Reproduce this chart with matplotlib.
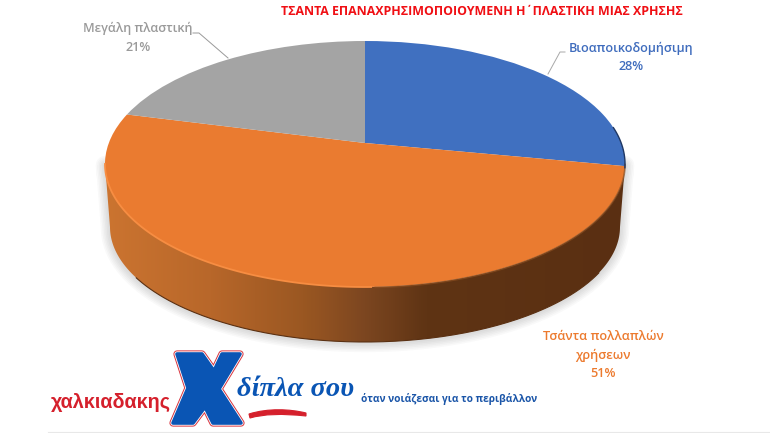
# encoding=utf-8
import matplotlib
matplotlib.use("Agg")
import matplotlib.pyplot as plt
import numpy as np
from matplotlib.patches import PathPatch, Polygon
from matplotlib.path import Path
from matplotlib.transforms import Transform
from matplotlib.colors import LinearSegmentedColormap

plt.rcParams['font.family'] = ['Open Sans', 'DejaVu Sans']

labels = ['Βιοαποικοδομήσιμη', 'Τσάντα πολλαπλών\nχρήσεων', 'Μεγάλη πλαστική']
values = [28, 51, 21]
colors = ['#4070c0', '#ea7b30', '#a4a4a4']
title = 'ΤΣΑΝΤΑ ΕΠΑΝΑΧΡΗΣΙΜΟΠΟΙΟΥΜΕΝΗ Η΄ΠΛΑΣΤΙΚΗ ΜΙΑΣ ΧΡΗΣΗΣ'
slogan = 'όταν νοιάζεσαι για το περιβάλλον'

# ellipse of the top face, in pixels
cx, cy, rx, ry = 365.0, 164.0, 260.0, 123.0
apex_y = 143.0
bx, by, brx, bry = 365.0, 227.0, 255.0, 115.0


class Persp(Transform):
    # unit circle -> perspective ellipse, pie centre lands on the apex
    input_dims = 2
    output_dims = 2
    is_separable = False
    has_inverse = False

    def transform_non_affine(self, values):
        values = np.asarray(values)
        u, v = values[:, 0], values[:, 1]
        c = cy - apex_y
        k = c / ry
        d = 1 + k * v
        x = cx + rx * np.sqrt(1 - k * k) * u / d
        y = cy - (ry * v + c) / d
        return np.column_stack([x, y])


fig = plt.figure(figsize=(7.7, 4.33), dpi=100)
ax = fig.add_axes([0, 0, 1, 1])

wedges, _ = ax.pie(values, colors=colors, startangle=90, counterclock=False)
for w in wedges:
    w.set_transform(Persp() + ax.transData)
    w.set_zorder(5)
    w.set_edgecolor('none')

# side wall
t = np.linspace(0, np.pi, 200)
top_x, top_y = cx + rx * np.cos(t), cy + ry * np.sin(t)
bot_x, bot_y = bx + brx * np.cos(t), by + bry * np.sin(t)
wall = np.vstack([np.column_stack([top_x, top_y]), np.column_stack([bot_x, bot_y])[::-1]])

# soft shadow round the wall
for i in range(1, 7):
    ax.add_patch(Polygon(wall + [0, 1], closed=True, fc='none', ec='#666666', lw=i * 2.2, alpha=0.04,
                         joinstyle='round', zorder=1))

side_cmap = LinearSegmentedColormap.from_list('side', [
    (0.0, '#cb7430'), (0.2, '#b8672a'), (0.38, '#9a5722'), (0.5, '#7c4620'),
    (0.62, '#5f3414'), (1.0, '#5a2f12')])
im = ax.imshow(np.linspace(0, 1, 260)[None, :], cmap=side_cmap, extent=(105, 625, 345, 160), aspect='auto', zorder=3)
clip = Polygon(wall, closed=True, transform=ax.transData, fc='none', ec='none')
ax.add_patch(clip)
im.set_clip_path(clip)

# rims
low = (bot_x > 135) & (bot_x < 600)
ax.plot(bot_x[low], bot_y[low], color='#5a3012', lw=0.8, zorder=4)
m = top_x < cx + 10
ax.plot(top_x[m], top_y[m], color='#f78d42', lw=1.3, zorder=6)
m2 = top_x >= cx + 10
ax.plot(top_x[m2], top_y[m2] + 0.5, color='#8a4d1f', lw=1.2, alpha=0.7, zorder=6)
a = np.linspace(-0.3, 0.03, 30)
ax.plot(cx + rx * np.cos(a), cy + ry * np.sin(a), color='#1f3763', lw=1.0, zorder=6)

# labels
label_col = ['#3f6cbd', '#ec7a2e', '#9a9a9a']
ax.text(631, 57.5, '%s\n%d%%' % (labels[0], values[0]), color=label_col[0], fontsize=9.1, fontweight='semibold',
        ha='center', va='center', linespacing=1.5)
ax.text(603, 355, '%s\n%d%%' % (labels[1], values[1]), color=label_col[1], fontsize=9.2, fontweight='semibold',
        ha='center', va='center', linespacing=1.55)
ax.text(138, 38, '%s\n%d%%' % (labels[2], values[2]), color=label_col[2], fontsize=9.1, fontweight='semibold',
        ha='center', va='center', linespacing=1.55)
ax.plot([193, 199, 228], [33, 33, 58], color='#9a9a9a', lw=0.7, zorder=7)
ax.plot([565, 560, 548], [52, 52, 74], color='#a8a8a8', lw=0.7, zorder=7)
ax.text(482, 11.5, title, color='#f00f14', fontsize=8.9, fontweight='bold', ha='center', va='center')

# logo
x_pts = [(177, 354), (202, 354), (214, 371), (222, 354), (240, 354), (219, 389), (241, 423), (213, 423),
         (205, 407), (193, 423), (173, 423), (188, 388), (177, 354), (177, 354)]
codes = [Path.MOVETO] + [Path.LINETO] * (len(x_pts) - 2) + [Path.CLOSEPOLY]
x_path = Path(x_pts, codes)
ax.add_patch(PathPatch(x_path, fc='none', ec='#d8323c', lw=5.2, joinstyle='round', zorder=8))
ax.add_patch(PathPatch(x_path, fc='none', ec='white', lw=3.8, joinstyle='round', zorder=8))
ax.add_patch(PathPatch(x_path, fc='#0a55b4', ec='#0a55b4', lw=2.6, joinstyle='round', zorder=8))

ax.text(111, 402, 'χαλκιαδακης', color='#d5202c', fontsize=14.2, fontweight='bold', ha='center', va='center',
        family=['Liberation Sans'], zorder=8)
ax.text(296, 390, 'δίπλα σου', color='#0a55b4', fontsize=20.5, fontweight='bold', style='italic', ha='center',
        va='center', family=['Liberation Serif'], zorder=9)
swoosh = Path([(249, 414), (268, 408), (290, 409), (306, 413), (306, 416), (270, 412), (250, 418), (249, 414)],
              [Path.MOVETO, Path.CURVE4, Path.CURVE4, Path.CURVE4, Path.LINETO, Path.CURVE3, Path.CURVE3, Path.CLOSEPOLY])
ax.add_patch(PathPatch(swoosh, fc='#d5202c', ec='#d5202c', lw=0.8, zorder=8))
ax.text(449, 399, slogan, color='#1a55a8', fontsize=7.3, fontweight='bold', ha='center', va='center', zorder=8)
ax.plot([48, 770], [432, 432], color='#e8e8e8', lw=0.8, zorder=1)

ax.set_aspect('auto')
ax.set_xlim(0, 770)
ax.set_ylim(433, 0)
ax.axis('off')
fig.savefig('out.png', dpi=100, facecolor='white')
